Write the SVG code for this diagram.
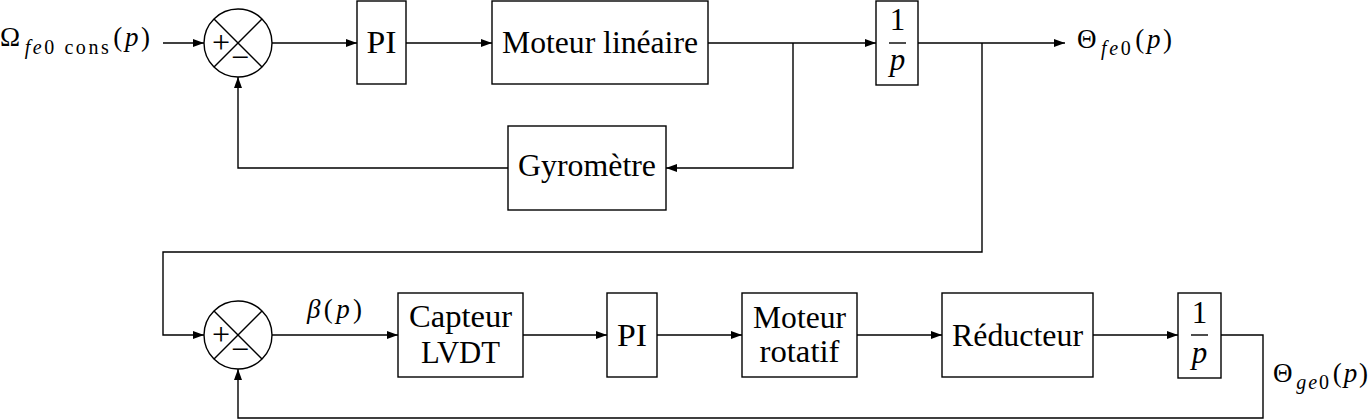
<svg xmlns="http://www.w3.org/2000/svg" width="1370" height="420" viewBox="0 0 1370 420">
<defs>
<style>
.box{fill:#fff;stroke:#000;stroke-width:1.4}
.ln{fill:none;stroke:#000;stroke-width:1.4}
.arr{fill:none;stroke:#000;stroke-width:1.4;marker-end:url(#ah)}
text{font-family:"Liberation Serif","Times New Roman",Tinos,"DejaVu Serif","Noto Serif",serif;fill:#000}
.t{font-size:31px;text-anchor:middle}
.m{font-size:27px}
.s{font-size:20px}
.i{font-style:italic}
.sg{font-size:32px;text-anchor:middle}
</style>
<marker id="ah" viewBox="0 0 11 8" refX="11" refY="4" markerWidth="11" markerHeight="8" markerUnits="userSpaceOnUse" orient="auto">
<path d="M0,0 L11,4 L0,8 Z" fill="#000"/>
</marker>
</defs>

<g id="connectors">
<line class="arr" x1="163" y1="43" x2="204" y2="43"/>
<line class="arr" x1="272" y1="43" x2="357" y2="43"/>
<line class="arr" x1="406" y1="43" x2="492" y2="43"/>
<line class="arr" x1="708" y1="43" x2="876" y2="43"/>
<polyline class="arr" points="793,43 793,168 666,168"/>
<polyline class="arr" points="508,168 238,168 238,77"/>
<line class="arr" x1="918" y1="43" x2="1065" y2="43"/>
<polyline class="arr" points="982,43 982,252 163,252 163,335 204,335"/>
<line class="arr" x1="272" y1="335" x2="398" y2="335"/>
<line class="arr" x1="523" y1="335" x2="607" y2="335"/>
<line class="arr" x1="657" y1="335" x2="742" y2="335"/>
<line class="arr" x1="857" y1="335" x2="942" y2="335"/>
<line class="arr" x1="1093" y1="335" x2="1178" y2="335"/>
<polyline class="arr" points="1221,335 1263,335 1263,418 238,418 238,369"/>
</g>

<g id="input-omega">
<text class="m" x="0" y="46" textLength="150" lengthAdjust="spacing">Ω<tspan class="s" dx="2" dy="8"><tspan class="i">fe</tspan>0 cons</tspan><tspan dx="2" dy="-8">(<tspan class="i">p</tspan>)</tspan></text>
</g>

<g id="sum1">
<circle class="box" cx="238" cy="43" r="34"/>
<line class="ln" x1="214" y1="19" x2="262" y2="67"/>
<line class="ln" x1="262" y1="19" x2="214" y2="67"/>
<text class="sg" x="221" y="53">+</text>
<text class="sg" x="240" y="68">−</text>
</g>

<g id="pi1">
<rect class="box" x="357" y="1" width="49" height="83"/>
<text class="t" x="381.5" y="53" textLength="30" lengthAdjust="spacingAndGlyphs">PI</text>
</g>

<g id="moteur-lineaire">
<rect class="box" x="492" y="1" width="216" height="83"/>
<text class="t" x="600" y="53" textLength="196" lengthAdjust="spacingAndGlyphs">Moteur linéaire</text>
</g>

<g id="integ1">
<rect class="box" x="876" y="1" width="42" height="84"/>
<text class="t" x="897.5" y="30">1</text>
<line class="ln" x1="889" y1="43" x2="906" y2="43"/>
<text class="t i" x="897.5" y="70">p</text>
</g>

<g id="output-theta-fe">
<text class="m" x="1077" y="48" textLength="95" lengthAdjust="spacing">Θ<tspan class="s" dx="2" dy="7"><tspan class="i">fe</tspan>0</tspan><tspan dx="2" dy="-7">(<tspan class="i">p</tspan>)</tspan></text>
</g>

<g id="gyrometre">
<rect class="box" x="508" y="126" width="158" height="84"/>
<text class="t" x="587" y="176" textLength="138" lengthAdjust="spacingAndGlyphs">Gyromètre</text>
</g>

<g id="sum2">
<circle class="box" cx="238" cy="335" r="34"/>
<line class="ln" x1="214" y1="311" x2="262" y2="359"/>
<line class="ln" x1="262" y1="311" x2="214" y2="359"/>
<text class="sg" x="221" y="345">+</text>
<text class="sg" x="240" y="360">−</text>
</g>

<g id="beta-label">
<text class="m" x="307" y="318" textLength="55" lengthAdjust="spacing"><tspan class="i">β</tspan>(<tspan class="i">p</tspan>)</text>
</g>

<g id="capteur-lvdt">
<rect class="box" x="398" y="293" width="125" height="84"/>
<text class="t" x="460.5" y="327" textLength="103" lengthAdjust="spacingAndGlyphs">Capteur</text>
<text class="t" x="460.5" y="363" textLength="79" lengthAdjust="spacingAndGlyphs">LVDT</text>
</g>

<g id="pi2">
<rect class="box" x="607" y="293" width="50" height="84"/>
<text class="t" x="632" y="346" textLength="30" lengthAdjust="spacingAndGlyphs">PI</text>
</g>

<g id="moteur-rotatif">
<rect class="box" x="742" y="293" width="115" height="84"/>
<text class="t" x="799.5" y="328" textLength="93" lengthAdjust="spacingAndGlyphs">Moteur</text>
<text class="t" x="799.5" y="362" textLength="80" lengthAdjust="spacingAndGlyphs">rotatif</text>
</g>

<g id="reducteur">
<rect class="box" x="942" y="293" width="151" height="84"/>
<text class="t" x="1017.5" y="346" textLength="131" lengthAdjust="spacingAndGlyphs">Réducteur</text>
</g>

<g id="integ2">
<rect class="box" x="1178" y="293" width="43" height="85"/>
<text class="t" x="1199.5" y="323">1</text>
<line class="ln" x1="1191" y1="335" x2="1208" y2="335"/>
<text class="t i" x="1199.5" y="363">p</text>
</g>

<g id="output-theta-ge">
<text class="m" x="1273" y="382" textLength="95" lengthAdjust="spacing">Θ<tspan class="s" dx="2" dy="7"><tspan class="i">ge</tspan>0</tspan><tspan dx="2" dy="-7">(<tspan class="i">p</tspan>)</tspan></text>
</g>
</svg>
